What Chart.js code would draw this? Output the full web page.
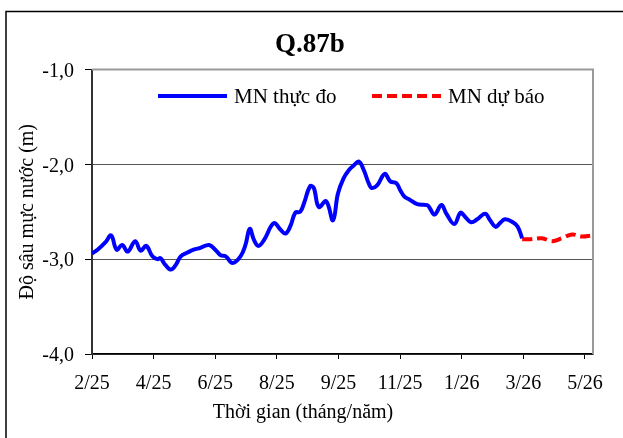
<!DOCTYPE html>
<html lang="vi">
<head>
    <meta charset="UTF-8">
    <title>Q.87b</title>
    <script src="https://cdn.jsdelivr.net/npm/chart.js"></script>
    <style>
        body { margin: 0; padding: 0; background: #fff; }
        #wrap { width: 623px; height: 438px; position: relative; }
    </style>
</head>
<body>
    <div id="wrap"><canvas id="chart" width="623" height="438"></canvas></div>

    <script>
        // tick labels (month/year), one per major tick
        const tickLabels = ['2/25', '4/25', '6/25', '8/25', '9/25', '11/25', '1/26', '3/26', '5/26'];

        // measured water level: position along time axis (in tick units) and depth (m)
        const obsT = [0, 0.09, 0.22, 0.31, 0.40, 0.49, 0.58, 0.70, 0.79, 0.88, 0.98, 1.06, 1.11, 1.19, 1.28, 1.36, 1.44,
            1.55, 1.65, 1.76, 1.90, 2.00, 2.09, 2.17, 2.28, 2.41, 2.49, 2.56, 2.63, 2.70, 2.79, 2.95, 3.06, 3.14, 3.22,
            3.30, 3.38, 3.44, 3.54, 3.60, 3.68, 3.80, 3.91, 3.99, 4.08, 4.17, 4.25, 4.33, 4.41, 4.49, 4.54, 4.63, 4.75,
            4.84, 4.94, 5.00, 5.07, 5.15, 5.28, 5.44, 5.48, 5.56, 5.67, 5.75, 5.88, 5.98, 6.05, 6.15, 6.25, 6.38, 6.46,
            6.55, 6.62, 6.70, 6.83, 6.91, 6.98];
        const obsDepth = [-2.94, -2.90, -2.82, -2.75, -2.90, -2.85, -2.92, -2.81, -2.91, -2.86, -2.97, -3.00, -2.99, -3.06, -3.11, -3.06, -2.97,
            -2.93, -2.90, -2.88, -2.85, -2.90, -2.96, -2.97, -3.04, -2.97, -2.85, -2.68, -2.80, -2.86, -2.80, -2.62, -2.69, -2.73, -2.65,
            -2.51, -2.50, -2.41, -2.23, -2.25, -2.45, -2.39, -2.59, -2.31, -2.15, -2.06, -2.01, -1.97, -2.06, -2.20, -2.25, -2.22, -2.10,
            -2.18, -2.20, -2.27, -2.34, -2.37, -2.42, -2.43, -2.46, -2.53, -2.43, -2.52, -2.63, -2.51, -2.55, -2.61, -2.58, -2.52, -2.59,
            -2.66, -2.62, -2.58, -2.61, -2.66, -2.78];

        // forecast water level
        const fcT = [6.98, 7.11, 7.30, 7.47, 7.62, 7.79, 7.95, 8.11];
        const fcDepth = [-2.79, -2.79, -2.78, -2.81, -2.78, -2.74, -2.76, -2.75];

        const FONT = "'Liberation Serif', 'Times New Roman', serif";

        function toPoints(xs, ys) {
            return xs.map((x, i) => ({ x: x, y: ys[i] }));
        }

        // outer frame, plot frame (top/right), titles and in-plot legend
        const decorPlugin = {
            id: 'decor',
            afterDraw(chart) {
                const ctx = chart.ctx;
                const a = chart.chartArea;
                ctx.save();

                // plot frame top + right (grey)
                ctx.strokeStyle = '#9a9a9a';
                ctx.lineWidth = 2;
                ctx.beginPath();
                ctx.moveTo(a.left, a.top);
                ctx.lineTo(a.right, a.top);
                ctx.lineTo(a.right, a.bottom);
                ctx.stroke();

                // outer frame
                ctx.strokeStyle = '#000';
                ctx.lineWidth = 1.5;
                ctx.beginPath();
                ctx.moveTo(6, 438);
                ctx.lineTo(6, 11.5);
                ctx.lineTo(623, 11.5);
                ctx.stroke();

                // title
                ctx.fillStyle = '#000';
                ctx.font = 'bold 27px ' + FONT;
                ctx.textAlign = 'center';
                ctx.textBaseline = 'middle';
                ctx.fillText('Q.87b', 310, 45);

                // x axis title (centred on the frame, not the plot)
                ctx.font = '20px ' + FONT;
                ctx.fillText('Thời gian (tháng/năm)', 303, 413);

                // legend
                const items = [
                    { ds: chart.data.datasets[0], x: 158 },
                    { ds: chart.data.datasets[1], x: 372 }
                ];
                ctx.font = '21px ' + FONT;
                ctx.textAlign = 'left';
                items.forEach(it => {
                    ctx.strokeStyle = it.ds.borderColor;
                    ctx.lineWidth = it.ds.borderWidth;
                    ctx.setLineDash(it.ds.borderDash || []);
                    ctx.beginPath();
                    ctx.moveTo(it.x, 96);
                    ctx.lineTo(it.x + 69, 96);
                    ctx.stroke();
                    ctx.setLineDash([]);
                    ctx.fillText(it.ds.label, it.x + 76, 97);
                });
                ctx.restore();
            }
        };

        const ctx = document.getElementById('chart').getContext('2d');
        new Chart(ctx, {
            type: 'line',
            data: {
                datasets: [
                    {
                        label: 'MN thực đo',
                        data: toPoints(obsT, obsDepth),
                        borderColor: '#0000ff',
                        borderWidth: 4,
                        pointRadius: 0,
                        tension: 0.4,
                        fill: false
                    },
                    {
                        label: 'MN dự báo',
                        data: toPoints(fcT, fcDepth),
                        borderColor: '#ff0000',
                        borderWidth: 4,
                        borderDash: [10, 5],
                        pointRadius: 0,
                        tension: 0.4,
                        fill: false
                    }
                ]
            },
            options: {
                responsive: false,
                animation: false,
                layout: { padding: { top: 69.5, right: 30, left: 0, bottom: 0 } },
                plugins: {
                    legend: { display: false },
                    title: { display: false },
                    tooltip: { enabled: false }
                },
                scales: {
                    x: {
                        type: 'linear',
                        min: 0,
                        max: 8.13,
                        afterBuildTicks(scale) {
                            scale.ticks = tickLabels.map((_, i) => ({ value: i }));
                        },
                        afterFit(scale) { scale.height = 84; },
                        ticks: {
                            autoSkip: false,
                            maxRotation: 0,
                            padding: 13,
                            color: '#000',
                            font: { family: FONT, size: 20 },
                            callback: (v) => tickLabels[v]
                        },
                        grid: { drawOnChartArea: false, tickLength: 5, color: '#000' },
                        border: { color: '#000', width: 1.5 }
                    },
                    y: {
                        min: -4,
                        max: -1,
                        afterFit(scale) { scale.width = 92; },
                        ticks: {
                            stepSize: 1,
                            padding: 11,
                            labelOffset: 2,
                            color: '#000',
                            font: { family: FONT, size: 20 },
                            callback: (v) => v.toFixed(1).replace('.', ',')
                        },
                        grid: {
                            tickLength: 7,
                            color: (c) => (c.tick && c.tick.value === -1) ? 'rgba(0,0,0,0)' : '#555',
                            tickColor: '#000'
                        },
                        border: { color: '#333', width: 2 },
                        title: {
                            display: true,
                            text: 'Độ sâu mực nước (m)',
                            color: '#000',
                            font: { family: FONT, size: 20 },
                            padding: { top: 16, bottom: 0 }
                        }
                    }
                }
            },
            plugins: [decorPlugin]
        });
    </script>
</body>
</html>
